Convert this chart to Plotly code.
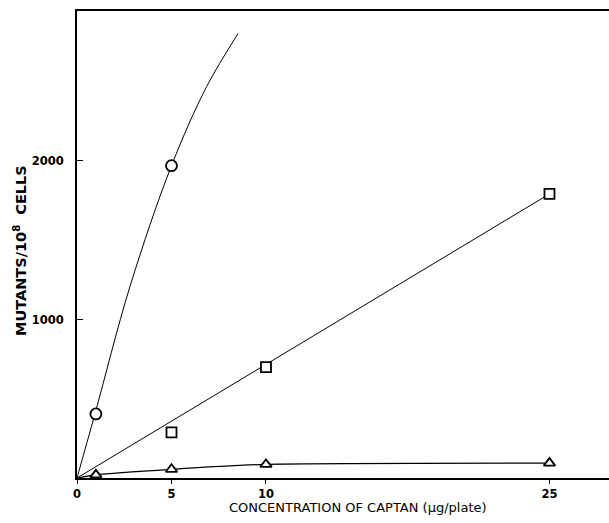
import plotly.graph_objects as go

# Captan dose (µg/plate) and mutant counts per 10^8 cells for the three strains
dose_circle = [1, 5]
mutants_circle = [404, 1970]
# hand-drawn trend curve for the circle series (runs on past the last point)
curve_circle_x = [0, 0.95, 2.8, 5.0, 6.86, 8.53]
curve_circle_y = [0, 404, 1207, 1970, 2469, 2805]

dose_square = [5, 10, 25]
mutants_square = [288, 700, 1792]
# straight-line fit for the square series
fit_square_x = [0, 25]
fit_square_y = [0, 1792]

dose_triangle = [1, 5, 10, 25]
mutants_triangle = [20, 55, 86, 94]
curve_triangle_x = [0, 1, 5, 10, 25]
curve_triangle_y = [0, 20, 55, 86, 94]

x_ticks = [0, 5, 10, 25]
y_ticks = [1000, 2000]

FONT = "DejaVu Sans, Liberation Sans, sans-serif"
W, H = 609, 523
M = dict(l=77, r=0, t=11, b=45)

fig = go.Figure()

fig.add_trace(go.Scatter(x=curve_circle_x, y=curve_circle_y, mode="lines",
                         line=dict(color="black", width=1, shape="spline", smoothing=1.0),
                         hoverinfo="skip"))
fig.add_trace(go.Scatter(x=fit_square_x, y=fit_square_y, mode="lines",
                         line=dict(color="black", width=1), hoverinfo="skip"))
fig.add_trace(go.Scatter(x=curve_triangle_x, y=curve_triangle_y, mode="lines",
                         line=dict(color="black", width=1.2, shape="spline", smoothing=0.6),
                         hoverinfo="skip"))

marker_line = dict(color="black", width=1.8)
fig.add_trace(go.Scatter(x=dose_circle, y=mutants_circle, mode="markers",
                         marker=dict(symbol="circle", size=11, color="white", line=marker_line)))
fig.add_trace(go.Scatter(x=dose_square, y=mutants_square, mode="markers",
                         marker=dict(symbol="square", size=10, color="white", line=marker_line)))
fig.add_trace(go.Scatter(x=dose_triangle, y=mutants_triangle, mode="markers",
                         marker=dict(symbol="triangle-up", size=10, color="white", line=marker_line)))

# axis titles placed as paper annotations (pixel positions converted to paper fractions)
plot_w = W - M["l"] - M["r"]
plot_h = H - M["t"] - M["b"]
def px_to_paper(px, py):
    return (px - M["l"]) / plot_w, (H - M["b"] - py) / plot_h

xt_x, xt_y = px_to_paper(358, 507)
yt_x, yt_y = px_to_paper(20, 251)

fig.add_annotation(text="CONCENTRATION OF CAPTAN (µg/plate)", xref="paper", yref="paper",
                   x=xt_x, y=xt_y, showarrow=False, xanchor="center", yanchor="middle",
                   font=dict(size=13, family=FONT, color="black"))
fig.add_annotation(text="<b>MUTANTS/10<sup>8</sup>  CELLS</b>", xref="paper", yref="paper",
                   x=yt_x, y=yt_y, showarrow=False, textangle=-90,
                   xanchor="center", yanchor="middle",
                   font=dict(size=14.5, family=FONT, color="black"))

fig.update_layout(
    width=W, height=H,
    margin=M,
    paper_bgcolor="white", plot_bgcolor="white",
    showlegend=False,
    font=dict(family=FONT, color="black", size=11),
    xaxis=dict(
        range=[0, 28.15], tickvals=x_ticks, ticktext=[f"<b>{v}</b>" for v in x_ticks],
        showgrid=False, zeroline=False, showline=True, linecolor="black", linewidth=2,
        mirror=True, ticks="outside", ticklen=4, tickcolor="black", tickwidth=1,
        tickfont=dict(size=11.5, family=FONT),
    ),
    yaxis=dict(
        range=[0, 2946], tickvals=y_ticks, ticktext=[f"<b>{v}</b>" for v in y_ticks],
        showgrid=False, zeroline=False, showline=True, linecolor="black", linewidth=2,
        ticks="inside", ticklen=6, tickcolor="black", tickwidth=1,
        tickfont=dict(size=11.5, family=FONT), ticklabelstandoff=9,
    ),
)

fig.write_html("out.html")
